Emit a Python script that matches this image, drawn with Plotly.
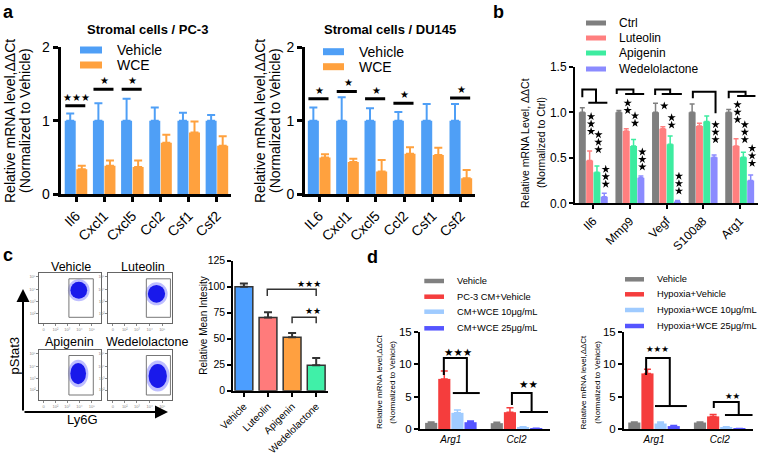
import plotly.graph_objects as go

W, H = 760, 457
def px(x): return x / W
def py(y): return 1 - y / H

F = "Arial, 'Liberation Sans', sans-serif"
FS = "'DejaVu Sans', sans-serif"
STAR = "★"

# ---------------- DATA ----------------
# Panel a
a_series = ["Vehicle", "WCE"]
a_colors = ["#4f9ff6", "#ffa13e"]
a1_title = "Stromal cells / PC-3"
a1_genes = ["Il6", "Cxcl1", "Cxcl5", "Ccl2", "Csf1", "Csf2"]
a1_vehicle = [1.0, 1.0, 1.0, 1.0, 1.0, 1.0]
a1_vehicle_err = [0.10, 0.24, 0.30, 0.18, 0.11, 0.08]
a1_wce = [0.34, 0.39, 0.37, 0.70, 0.84, 0.66]
a1_wce_err = [0.05, 0.07, 0.09, 0.11, 0.15, 0.13]
a1_sig_idx = [0, 1, 2]
a1_sig_y = [1.205, 1.43, 1.43]
a1_sig_stars = [3, 1, 1]

a2_title = "Stromal cells / DU145"
a2_genes = ["IL6", "Cxcl1", "Cxcl5", "Ccl2", "Csf1", "Csf2"]
a2_vehicle = [1.0, 1.0, 1.0, 1.0, 1.0, 1.0]
a2_vehicle_err = [0.18, 0.32, 0.17, 0.12, 0.23, 0.23]
a2_wce = [0.50, 0.44, 0.31, 0.55, 0.535, 0.22]
a2_wce_err = [0.045, 0.045, 0.155, 0.09, 0.10, 0.11]
a2_sig_idx = [0, 1, 2, 3, 5]
a2_sig_y = [1.30, 1.40, 1.30, 1.24, 1.31]
a2_sig_stars = [1, 1, 1, 1, 1]
a_ylabel = ["Relative mRNA level,ΔΔCt", "(Normalized to Vehicle)"]

# Panel b
b_genes = ["Il6", "Mmp9", "Vegf", "S100a8", "Arg1"]
b_series = ["Ctrl", "Luteolin", "Apigenin", "Wedelolactone"]
b_colors = ["#7f7f7f", "#ff7f7f", "#3deca0", "#8b8bff"]
b_ctrl = [1.0, 1.0, 1.0, 1.0, 1.0]
b_ctrl_err = [0.05, 0.02, 0.10, 0.09, 0.03]
b_lut = [0.47, 0.795, 0.82, 0.85, 0.63]
b_lut_err = [0.105, 0.025, 0.02, 0.03, 0.08]
b_api = [0.34, 0.63, 0.65, 0.90, 0.505]
b_api_err = [0.07, 0.07, 0.09, 0.06, 0.055]
b_wed = [0.073, 0.28, 0.02, 0.505, 0.25]
b_wed_err = [0.037, 0.02, 0.01, 0.025, 0.06]
b_star_count = [[0, 3, 3, 3], [0, 2, 2, 3], [0, 1, 2, 3], [0, 0, 0, 3], [0, 3, 3, 3]]
b_star_base = [[0, 0.79, 0.59, 0.21], [0, 1.02, 0.88, 0.40], [0, 1.07, 0.86, 0.135],
               [0, 0, 0, 0.70], [0, 0.92, 0.70, 0.44]]
b_ylabel = ["Relative mRNA Level, ΔΔCt", "(Normalized to Ctrl)"]

# Panel c
c_flow_titles = ["Vehicle", "Luteolin", "Apigenin", "Wedelolactone"]
c_groups = ["Vehicle", "Luteolin", "Apigenin", "Wedelolactone"]
c_colors = ["#4c9eff", "#ff7b7b", "#ffa040", "#40f0a8"]
c_vals = [100.0, 70.5, 51.5, 24.5]
c_err = [3.0, 5.0, 4.0, 7.0]
c_ylabel = "Relative Mean Intesity"

# Panel d
d_genes = ["Arg1", "Ccl2"]
d_colors = ["#808080", "#f53d3d", "#9fcbff", "#5555ff"]
d1_series = ["Vehicle", "PC-3 CM+Vehicle", "CM+WCE 10μg/mL", "CM+WCE 25μg/mL"]
d1_vals = [[0.95, 0.9], [7.75, 2.6], [2.5, 0.2], [1.05, 0.06]]
d1_errs = [[0.12, 0.15], [1.2, 0.7], [0.45, 0.15], [0.2, 0.05]]
d2_series = ["Vehicle", "Hypoxia+Vehicle", "Hypoxia+WCE 10μg/mL", "Hypoxia+WCE 25μg/mL"]
d2_vals = [[1.0, 1.0], [8.6, 1.95], [0.85, 0.25], [0.45, 0.05]]
d2_errs = [[0.1, 0.1], [0.65, 0.3], [0.25, 0.1], [0.1, 0.03]]
d_ylabel = ["Relative mRNA level,ΔΔCt", "(Normalized to Vehicle)"]

# ---------------- FIGURE ----------------
fig = go.Figure()

def ax(k, c):
    return c if k == 1 else f"{c}{k}"

def add_bar(k, x, y, err, color, width, th, ew, line_color=None, line_w=0, err_color=None):
    fig.add_trace(go.Bar(
        x=x, y=y, width=width, xaxis=ax(k, "x"), yaxis=ax(k, "y"),
        marker=dict(color=color, line=dict(color=line_color or color, width=line_w)),
        error_y=dict(type="data", array=err, arrayminus=[0] * len(err), symmetric=False,
                     color=err_color or color, thickness=th, width=ew),
        showlegend=False, hoverinfo="skip"))

annos = []
shapes = []

def text(x, y, s, size, family=F, color="black", angle=0, xanchor="center", yanchor="middle"):
    annos.append(dict(x=px(x), y=py(y), xref="paper", yref="paper", text=s, showarrow=False,
                      font=dict(family=family, size=size, color=color), textangle=angle,
                      xanchor=xanchor, yanchor=yanchor))

def dtext(k, x, y, s, size, family=FS, yanchor="middle"):
    annos.append(dict(x=x, y=y, xref=ax(k, "x"), yref=ax(k, "y"), text=s, showarrow=False,
                      font=dict(family=family, size=size, color="black"),
                      xanchor="center", yanchor=yanchor))

def poly(k, pts, width=2, color="black"):
    path = "M " + " L ".join(f"{x},{y}" for x, y in pts)
    shapes.append(dict(type="path", path=path, xref=ax(k, "x"), yref=ax(k, "y"),
                       line=dict(color=color, width=width)))

def swatch(x0, x1, yc, h, color):
    shapes.append(dict(type="rect", xref="paper", yref="paper", x0=px(x0), x1=px(x1),
                       y0=py(yc + h / 2), y1=py(yc - h / 2), fillcolor=color,
                       line=dict(width=0)))

# ---- panel a ----
for k, genes, veh, veh_e, wce, wce_e in [
        (1, a1_genes, a1_vehicle, a1_vehicle_err, a1_wce, a1_wce_err),
        (2, a2_genes, a2_vehicle, a2_vehicle_err, a2_wce, a2_wce_err)]:
    idx = list(range(len(genes)))
    add_bar(k, [i - 0.205 for i in idx], veh, veh_e, a_colors[0], 0.39, 2, 4)
    add_bar(k, [i + 0.205 for i in idx], wce, wce_e, a_colors[1], 0.39, 2, 4)

for k, sidx, sy, sn in [(1, a1_sig_idx, a1_sig_y, a1_sig_stars),
                        (2, a2_sig_idx, a2_sig_y, a2_sig_stars)]:
    for i, yv, n in zip(sidx, sy, sn):
        poly(k, [(i - 0.38, yv), (i + 0.33, yv)], width=3)
        dtext(k, i + 0.02, yv + 0.115, STAR * n, 10)

# legend a
for (xs, xt, ys) in [((80, 102), 115, (50, 65)), ((323, 344), 357, (51.7, 66.7))]:
    for name, col, yc in zip(a_series, a_colors, ys):
        swatch(xs[0], xs[1], yc, 7, col)
        text(xt, yc, name, 14, xanchor="left")

text(147, 29, "<b>" + a1_title + "</b>", 13)
text(390, 29, "<b>" + a2_title + "</b>", 13)
for (x1, x2) in [(10, 25), (260, 275)]:
    text(x1, 121, a_ylabel[0], 14, angle=-90)
    text(x2, 121, a_ylabel[1], 14, angle=-90)

# ---- panel b ----
b_vals = [b_ctrl, b_lut, b_api, b_wed]
b_errs = [b_ctrl_err, b_lut_err, b_api_err, b_wed_err]
b_shift = [-0.3, -0.1, 0.1, 0.3]
for j in range(4):
    add_bar(3, [i + b_shift[j] for i in range(len(b_genes))], b_vals[j], b_errs[j],
            b_colors[j], 0.19, 1.5, 2.5)
# significance stars of panel b, stacked vertically above bars (drawn as star markers)
sx, sy = [], []
for i in range(len(b_genes)):
    for j in range(4):
        for s in range(b_star_count[i][j]):
            sx.append(i + b_shift[j] + 0.04)
            sy.append(b_star_base[i][j] + 0.082 * s)
fig.add_trace(go.Scatter(x=sx, y=sy, mode="markers", xaxis="x3", yaxis="y3",
                         marker=dict(symbol="star", size=6.3, color="black", line=dict(width=0)),
                         showlegend=False, hoverinfo="skip"))
# brackets b
poly(3, [(-0.30, 1.165), (-0.30, 1.25), (0.074, 1.25), (0.074, 1.105)])
poly(3, [(-0.137, 1.105), (0.384, 1.105)])
poly(3, [(0.64, 1.20), (0.64, 1.25), (1.096, 1.25), (1.096, 1.20)])
poly(3, [(0.87, 1.20), (1.39, 1.20)])
poly(3, [(1.69, 1.19), (1.69, 1.25), (2.10, 1.25), (2.10, 1.20)])
poly(3, [(1.87, 1.20), (2.42, 1.20)])
poly(3, [(2.72, 1.154), (2.72, 1.226), (3.34, 1.226), (3.34, 0.99)])
poly(3, [(3.70, 1.154), (3.70, 1.226), (4.16, 1.226), (4.16, 1.18)])
poly(3, [(3.93, 1.18), (4.43, 1.18)])
for name, col, yc in zip(b_series, b_colors, [23, 38, 53, 69]):
    swatch(586, 606, yc, 5, col)
    text(617, yc, name, 12, xanchor="left")
text(525, 143, b_ylabel[0], 10.5, angle=-90)
text(541, 143, b_ylabel[1], 10.5, angle=-90)

# ---- panel c ----
for j in range(4):
    add_bar(4, [j], [c_vals[j]], [c_err[j]], c_colors[j], 0.74, 2, 4,
            line_color="#333333", line_w=1.5, err_color="#333333")
poly(4, [(0.97, 91), (0.97, 97.5), (3.0, 97.5), (3.0, 91)], width=1.5, color="#333333")
dtext(4, 2.72, 103, STAR * 3, 9)
poly(4, [(2.0, 64.8), (2.0, 70.6), (3.0, 70.6), (3.0, 64.8)], width=1.5, color="#333333")
dtext(4, 2.88, 76.5, STAR * 2, 9)
text(202.7, 326, c_ylabel, 10, angle=-90)

# flow boxes
flow_blob = [(0.64, 0.66, 0.16, 0.20), (0.76, 0.59, 0.16, 0.21),
             (0.63, 0.53, 0.15, 0.25), (0.78, 0.48, 0.17, 0.28)]
flow_gate = [(0.48, 0.875, 0.12, 0.89), (0.60, 0.98, 0.12, 0.89),
             (0.48, 0.875, 0.10, 0.89), (0.60, 0.98, 0.10, 0.89)]
for n, k in enumerate([7, 8, 9, 10]):
    cx, cy, rx, ry = flow_blob[n]
    shapes.append(dict(type="circle", xref=ax(k, "x"), yref=ax(k, "y"),
                       x0=cx - rx * 1.1, x1=cx + rx * 1.1, y0=cy - ry * 1.1, y1=cy + ry * 1.1,
                       fillcolor="rgba(70,70,255,0.35)", line=dict(width=0)))
    shapes.append(dict(type="circle", xref=ax(k, "x"), yref=ax(k, "y"),
                       x0=cx - rx * 0.85, x1=cx + rx * 0.85, y0=cy - ry * 0.85, y1=cy + ry * 0.85,
                       fillcolor="rgb(25,25,235)", line=dict(width=0)))
    gx0, gx1, gy0, gy1 = flow_gate[n]
    shapes.append(dict(type="rect", xref=ax(k, "x"), yref=ax(k, "y"),
                       x0=gx0, x1=gx1, y0=gy0, y1=gy1, line=dict(color="#777777", width=1)))
    fig.add_trace(go.Scatter(x=[], y=[], xaxis=ax(k, "x"), yaxis=ax(k, "y"), showlegend=False))

for s, (x, y) in zip(c_flow_titles, [(71.2, 266.7), (143.3, 266.7), (69.2, 342), (147.7, 342)]):
    text(x, y, s, 12.5)
annos.append(dict(x=px(23), y=py(289), xref="paper", yref="paper", ax=0, ay=123, text="",
                  showarrow=True, arrowhead=2, arrowsize=1.3, arrowwidth=2, arrowcolor="black"))
annos.append(dict(x=px(168), y=py(412), xref="paper", yref="paper", ax=-145, ay=0, text="",
                  showarrow=True, arrowhead=2, arrowsize=1.3, arrowwidth=2, arrowcolor="black"))
text(13.5, 356, "pStat3", 13, angle=-90)
text(82, 419, "Ly6G", 13)

# ---- panel d ----
d_shift = [-0.3, -0.1, 0.1, 0.3]
for k, vals, errs in [(5, d1_vals, d1_errs), (6, d2_vals, d2_errs)]:
    for j in range(4):
        add_bar(k, [i + d_shift[j] for i in range(len(d_genes))], vals[j], errs[j],
                d_colors[j], 0.185, 1.5, 3.5)
# brackets d1
poly(5, [(-0.107, 8.35), (-0.107, 10.97), (0.244, 10.97), (0.244, 5.56)])
poly(5, [(0.03, 5.56), (0.44, 5.56)])
dtext(5, 0.114, 11.9, STAR * 3, 10.5)
poly(5, [(0.93, 3.7), (0.93, 5.56), (1.23, 5.56), (1.23, 2.63)])
poly(5, [(1.05, 2.63), (1.48, 2.63)])
dtext(5, 1.18, 7.0, STAR * 2, 10.5)
# brackets d2
poly(6, [(-0.12, 8.35), (-0.12, 10.97), (0.24, 10.97), (0.24, 3.55)])
poly(6, [(0.015, 3.55), (0.5, 3.55)])
dtext(6, 0.06, 12.3, STAR * 3, 8.5)
poly(6, [(0.91, 3.25), (0.91, 4.17), (1.29, 4.17), (1.29, 2.16)])
poly(6, [(1.08, 2.16), (1.5, 2.16)])
dtext(6, 1.21, 5.1, STAR * 2, 8.5)

for (xs, xt, ys, names) in [((424.3, 444), 455, (281, 296.7, 311.7, 328.3), d1_series),
                            ((625, 644), 655, (279.3, 294.3, 310, 326), d2_series)]:
    for name, col, yc in zip(names, d_colors, ys):
        swatch(xs[0], xs[1], yc, 4.5, col)
        text(xt, yc, name, 9.3, xanchor="left")
for (x1, x2) in [(379, 391.7), (582.5, 596.7)]:
    text(x1, 382, d_ylabel[0], 8, angle=-90)
    text(x2, 382, d_ylabel[1], 8, angle=-90)

# panel letters
text(1, 12, "<b>a</b>", 18, xanchor="left")
text(491, 12, "<b>b</b>", 18, xanchor="left")
text(1, 255, "<b>c</b>", 18, xanchor="left")
text(365, 257, "<b>d</b>", 18, xanchor="left")

# ---------------- AXES ----------------
def dom(a, b, f):
    return [f(a), f(b)] if f(a) < f(b) else [f(b), f(a)]

def base_axis(lw, tl, tw, fs, family=F):
    return dict(showline=True, linecolor="black", linewidth=lw, ticks="outside", ticklen=tl,
                tickwidth=tw, tickcolor="black", showgrid=False, zeroline=False,
                automargin=False, showticklabels=True,
                tickfont=dict(family=family, size=fs, color="black"), fixedrange=True)

lay = {}
def set_axes(k, xd, yd, xr, yr, xkw, ykw):
    lay[ax(k, "xaxis")] = dict(domain=dom(*xd, px), range=xr, anchor=ax(k, "y"), **xkw)
    lay[ax(k, "yaxis")] = dict(domain=dom(*yd, py), range=yr, anchor=ax(k, "x"), **ykw)

for k, genes, xd, xr in [(1, a1_genes, (60.5, 231), [-0.55, 5.5]),
                         (2, a2_genes, (305, 475), [-0.5, 5.5])]:
    xa = base_axis(3, 5, 3, 14)
    xa.update(tickvals=list(range(len(genes))), ticktext=genes, tickangle=-45)
    ya = base_axis(3, 5, 3, 14)
    ya.update(tickvals=[0, 1, 2])
    set_axes(k, xd, (194.3, 47.3), xr, [0, 2], xa, ya)

xa = base_axis(2, 4, 2, 12)
xa.update(tickvals=list(range(len(b_genes))), ticktext=b_genes, tickangle=-45)
ya = base_axis(2, 4, 2, 12)
ya.update(tickvals=[0, 0.5, 1.0, 1.5], tickformat=".1f")
set_axes(3, (575, 758), (203.3, 66.8), [-0.5, 4.5], [0, 1.5], xa, ya)

xa = base_axis(2, 4, 2, 10)
xa.update(tickvals=list(range(len(c_groups))), ticktext=c_groups, tickangle=-45)
ya = base_axis(2, 4, 2, 10.5)
ya.update(tickvals=[0, 25, 50, 75, 100, 125], ticktext=["0", "25", "50", "75", "100", "125"])
set_axes(4, (233.3, 328), (390.7, 260.7), [-0.44, 3.49], [0, 125], xa, ya)

for k, xd, xr in [(5, (420, 550), [-0.47, 1.51]), (6, (624, 753), [-0.457, 1.507])]:
    xa = base_axis(2, 0, 0, 10)
    xa.update(ticks="", tickvals=list(range(len(d_genes))),
              ticktext=["<i>" + g + "</i>" for g in d_genes])
    ya = base_axis(2, 4, 2, 11.5)
    ya.update(tickvals=[0, 5, 10, 15])
    set_axes(k, xd, (429, 332), xr, [0, 15], xa, ya)

flow_dom = [((39.3, 101), (323.3, 273.3)), ((108.3, 171.7), (323.3, 273.3)),
            ((39.3, 101), (400, 350)), ((108.3, 171.7), (400, 350))]
for n, k in enumerate([7, 8, 9, 10]):
    fx = dict(showline=True, mirror=True, linecolor="#666666", linewidth=1, ticks="outside",
              ticklen=2, tickwidth=1, tickcolor="#888888", showgrid=False, zeroline=False,
              automargin=False,
              tickvals=[0.07, 0.26, 0.45, 0.65, 0.85],
              ticktext=["0", "10²", "10³", "10⁴", "10⁵"],
              tickfont=dict(size=4, color="#888888", family=F), fixedrange=True)
    fy = dict(fx)
    fy.update(tickvals=[0.2, 0.43, 0.67, 0.93], ticktext=["10²", "10³", "10⁴", "10⁵"])
    set_axes(k, flow_dom[n][0], flow_dom[n][1], [0, 1], [0, 1], fx, fy)

fig.update_layout(
    width=W, height=H, margin=dict(l=0, r=0, t=0, b=0, autoexpand=False),
    paper_bgcolor="white", plot_bgcolor="rgba(0,0,0,0)",
    barmode="overlay", showlegend=False,
    font=dict(family=F, color="black"),
    annotations=annos, shapes=shapes, **lay)

fig.write_html("out.html", config={"displayModeBar": False},
               post_script="document.body.style.margin='0px';document.body.style.overflow='hidden';")
